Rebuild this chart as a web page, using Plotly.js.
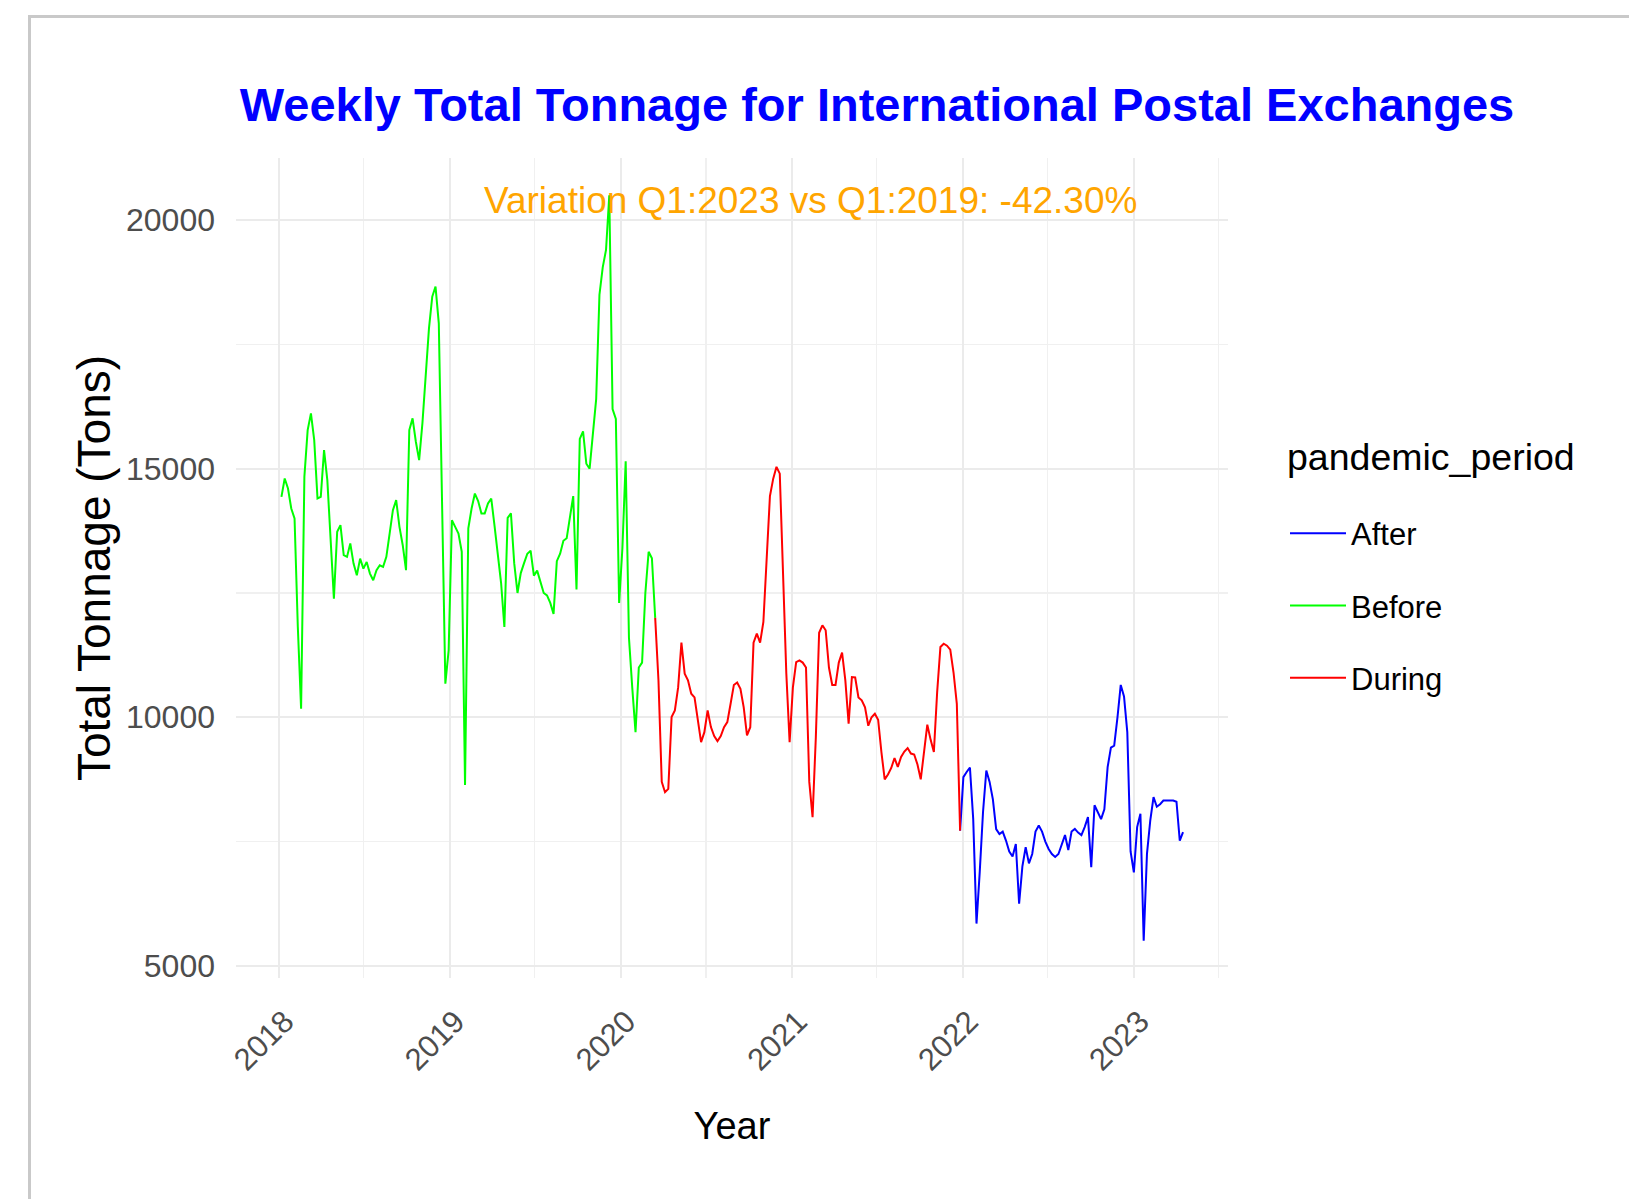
<!DOCTYPE html>
<html>
<head>
<meta charset="utf-8">
<script src="https://cdn.plot.ly/plotly-3.0.1.min.js"></script>
<style>
html,body{margin:0;padding:0;background:#fff;}
#chart{width:1629px;height:1199px;}
#frame{position:absolute;left:28px;top:15px;width:1601px;height:1184px;border-top:3px solid #c9c9c9;border-left:3px solid #c9c9c9;pointer-events:none;box-sizing:border-box;}
</style>
</head>
<body>
<div id="chart"></div>
<div id="frame"></div>
<script>
// ---- data (weekly totals, tons) ----
const firstWeek = '2018-01-07';
const periodNames = ['After', 'Before', 'During'];
const periodColors = ['#0000FF', '#00FF00', '#FF0000'];
const legendTitle = 'pandemic_period';

// week index (from firstWeek) of the first value of each period
const beforeStartWeek = 0;
const duringStartWeek = 114;
const afterStartWeek = 207;

const beforeValues = [
  14434,14803,14602,14200,13998,11816,10172,14837,15777,16113,
  15576,14401,14434,15374,14770,13629,12387,13730,13864,13260,
  13226,13495,13092,12857,13192,12991,13125,12890,12756,12958,
  13058,13025,13226,13696,14166,14367,13830,13461,12958,15777,
  16012,15542,15173,15911,16918,17824,18462,18664,17925,14099,
  10675,11346,13964,13830,13696,13330,8640,13800,14200,14500,
  14350,14100,14100,14300,14400,13850,13250,12700,11816,14009,
  14100,13100,12500,12900,13100,13290,13350,12850,12950,12700,
  12500,12450,12300,12080,13140,13290,13550,13600,14000,14450,
  12572,15600,15750,15100,15000,15700,16400,18500,19050,19400,
  20500,16200,16000,12300,13400,15150,11600,10600,9700,11000,
  11100,12500,13330,13200,12000
];

const duringValues = [
  12000,10740,8700,8493,8560,10003,10137,10600,11500,10876,
  10742,10473,10400,9970,9500,9700,10137,9802,9620,9520,
  9620,9802,9903,10272,10650,10700,10574,10200,9634,9800,
  11500,11682,11500,11917,13300,14450,14800,15038,14900,12890,
  10876,9500,10600,11111,11145,11100,11000,8700,7989,9600,
  11700,11850,11750,11000,10650,10650,11100,11300,10742,9870,
  10809,10800,10400,10340,10200,9830,10000,10071,9950,9300,
  8750,8850,8980,9180,9000,9200,9310,9380,9270,9250,
  9050,8750,9350,9850,9550,9300,10500,11413,11480,11440,
  11360,10900,10270,7720
];

const afterValues = [
  7720,8795,8900,8990,7950,5850,6900,8100,8929,8700,
  8350,7750,7650,7700,7520,7300,7200,7450,6250,7000,
  7385,7060,7250,7700,7822,7700,7500,7350,7250,7190,
  7250,7430,7630,7330,7700,7754,7680,7630,7790,7990,
  6982,8230,8100,7950,8150,8996,9390,9430,10000,10650,
  10420,9700,7300,6880,7790,8057,5505,7251,7922,8392,
  8200,8250,8325,8325,8325,8325,8300,7520,7690
];

const yearTicks = ['2018','2019','2020','2021','2022','2023'];
const yTicks = [5000, 10000, 15000, 20000];
const titleText = 'Weekly Total Tonnage for International Postal Exchanges';
const noteText = 'Variation Q1:2023 vs Q1:2019: -42.30%';
const noteDate = '2021-02-10';
const noteValue = 20400;

// ---- build weekly dates ----
const DAY = 86400000;
const t0 = Date.parse(firstWeek + 'T00:00:00Z');
function weekDates(start, n) {
  const out = [];
  for (let i = 0; i < n; i++) out.push(new Date(t0 + (start + i) * 7 * DAY).toISOString().slice(0, 10));
  return out;
}
const series = {
  After: {x: weekDates(afterStartWeek, afterValues.length), y: afterValues},
  Before: {x: weekDates(beforeStartWeek, beforeValues.length), y: beforeValues},
  During: {x: weekDates(duringStartWeek, duringValues.length), y: duringValues}
};

const traces = periodNames.map((name, i) => ({
  type: 'scatter', mode: 'lines', name: name, legendgroup: name,
  x: series[name].x, y: series[name].y,
  line: {color: periodColors[i], width: 2}
}));

// ggplot-like 5% expansion of the x range
const allT = [].concat(series.Before.x, series.During.x, series.After.x).map(d => Date.parse(d + 'T00:00:00Z'));
const tMin = Math.min(...allT), tMax = Math.max(...allT);
const pad = (tMax - tMin) * 0.05;
const xRange = [new Date(tMin - pad).toISOString().slice(0, 10), new Date(tMax + pad).toISOString().slice(0, 10)];

const FONT = 'Liberation Sans, Arial, Helvetica, sans-serif';

const layout = {
  width: 1629, height: 1199,
  paper_bgcolor: '#ffffff', plot_bgcolor: '#ffffff',
  margin: {l: 236, r: 401, t: 158, b: 221},
  font: {family: FONT},
  title: {
    text: '<b>' + titleText + '</b>',
    font: {family: FONT, size: 47, color: '#0000FF'},
    xref: 'container', x: 877 / 1629, xanchor: 'center',
    yref: 'container', y: 1 - 105 / 1199, yanchor: 'middle'
  },
  xaxis: {
    type: 'date', range: xRange,
    tickmode: 'array', tickvals: yearTicks.map(y => y + '-01-01'), ticktext: yearTicks,
    tickangle: -45, tickfont: {family: FONT, size: 31, color: '#4D4D4D'},
    ticks: '', ticklabelstandoff: 18, ticklabelshift: 6,
    showgrid: true, gridcolor: '#EBEBEB', gridwidth: 2,
    minor: {dtick: 'M6', tick0: '2018-01-01', showgrid: true, gridcolor: '#F0F0F0', gridwidth: 1.5},
    zeroline: false, showline: false,
    title: {text: 'Year', font: {family: FONT, size: 38, color: '#000000'}, standoff: 36}
  },
  yaxis: {
    range: [4755, 21250],
    tickmode: 'array', tickvals: yTicks, ticktext: yTicks.map(String),
    tickfont: {family: FONT, size: 32, color: '#4D4D4D'},
    ticks: '', ticklabelstandoff: 20,
    showgrid: true, gridcolor: '#EBEBEB', gridwidth: 2,
    minor: {dtick: 2500, tick0: 0, showgrid: true, gridcolor: '#F0F0F0', gridwidth: 1.5},
    zeroline: false, showline: false,
    title: {text: 'Total Tonnage (Tons)', font: {family: FONT, size: 46, color: '#000000'}, standoff: 0}
  },
  legend: {
    x: (1285 - 236) / 992, xanchor: 'left', y: 0.575, yanchor: 'top',
    font: {family: FONT, size: 31, color: '#000000'},
    traceorder: 'grouped', tracegroupgap: 29, itemwidth: 56,
    bgcolor: 'rgba(0,0,0,0)', borderwidth: 0
  },
  annotations: [{
    xref: 'x', yref: 'y', x: noteDate, y: noteValue,
    text: noteText, showarrow: false, xanchor: 'center', yanchor: 'middle',
    font: {family: FONT, size: 37, color: '#FFA500'}
  }, {
    xref: 'paper', yref: 'paper', x: (1285 - 236) / 992, y: 1 - (457 - 158) / 820,
    text: legendTitle, showarrow: false, xanchor: 'left', yanchor: 'middle',
    font: {family: FONT, size: 37.5, color: '#000000'}
  }],
  showlegend: true
};

Plotly.newPlot('chart', traces, layout, {displayModeBar: false, staticPlot: true});
</script>
</body>
</html>
